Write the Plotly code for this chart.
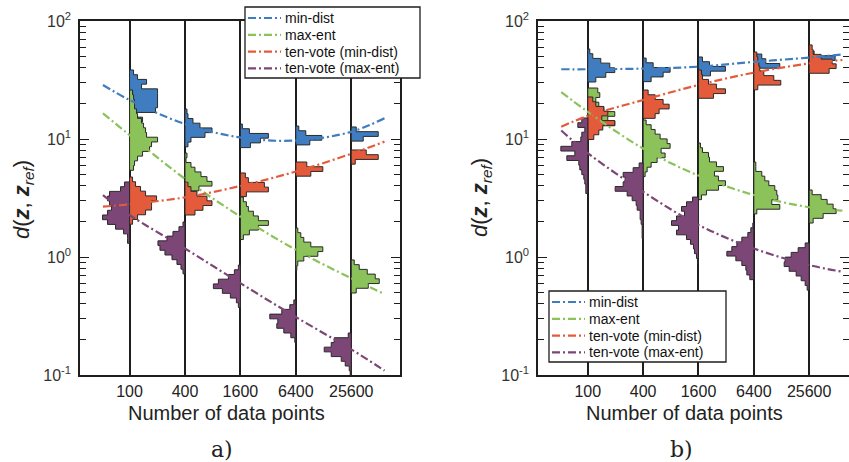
import plotly.graph_objects as go

# Category labels (number of data points) and their positions on the x axis
categories = ["100", "400", "1600", "6400", "25600"]
cat_pos = [0, 1, 2, 3, 4]

# Histograms of d(z, z_ref): top bin edge (log10 d) per category and bin counts from top to bottom
BIN = 0.04  # bin width in decades

a_min_dist_top = [1.585, 1.254, 1.127, 1.110, 1.102]
a_min_dist_counts = [
    [4, 8, 17, 12, 28, 28, 28, 28, 26, 7, 13],
    [2, 3, 8, 15, 27, 20, 6, 3],
    [2, 9, 28, 20, 10],
    [3, 10, 26, 14],
    [5, 27, 12],
]
a_max_ent_top = [1.415, 0.881, 0.508, 0.246, -0.025]
a_max_ent_counts = [
    [3, 4, 5, 5, 7, 8, 12, 14, 16, 17, 28, 22, 20, 13, 8, 5, 4],
    [2, 1, 6, 10, 16, 22, 27, 14, 5],
    [3, 6, 8, 13, 18, 28, 18, 9, 3],
    [2, 5, 8, 15, 27, 22, 8, 2, 1],
    [3, 8, 16, 24, 28, 17, 5],
]
a_tv_min_dist_top = [0.678, 0.636, 0.712, 0.805, 0.907]
a_tv_min_dist_counts = [
    [3, 6, 11, 16, 27, 22, 22, 16, 8, 3],
    [3, 6, 12, 22, 27, 18, 10],
    [5, 8, 24, 28, 6],
    [11, 27, 15],
    [15, 27, 4],
]
a_tv_max_ent_top = [0.636, 0.297, -0.068, -0.364, -0.644]
a_tv_max_ent_counts = [
    [5, 9, 20, 22, 20, 18, 22, 27, 22, 14, 6, 2, 2],
    [2, 6, 12, 18, 27, 25, 20, 13, 8, 4, 2],
    [2, 6, 12, 22, 27, 18, 10, 4, 2],
    [2, 6, 14, 26, 18, 19, 12, 5, 1],
    [3, 17, 20, 27, 20, 10, 6, 2, 1],
]

b_min_dist_top = [1.763, 1.686, 1.695, 1.720, 1.746]
b_min_dist_counts = [
    [2, 5, 13, 22, 27, 18, 8],
    [3, 10, 27, 20, 8],
    [4, 11, 27, 12],
    [8, 12, 26],
    [5, 26],
]
b_max_ent_top = [1.432, 1.161, 0.966, 0.805, 0.568]
b_max_ent_counts = [
    [10, 12, 8, 11, 16, 27, 20, 27, 5],
    [3, 8, 12, 17, 24, 27, 18, 22, 14, 8, 4, 2],
    [2, 4, 10, 11, 18, 25, 16, 20, 27, 20, 8, 3],
    [2, 2, 8, 11, 15, 21, 23, 24, 18, 26, 3],
    [3, 12, 18, 24, 27, 14, 4],
]
b_tv_min_dist_top = [1.356, 1.415, 1.585, 1.737, 1.797]
b_tv_min_dist_counts = [
    [5, 8, 16, 20, 14, 27, 15, 11, 6],
    [5, 12, 20, 26, 16, 12],
    [3, 4, 10, 18, 27, 15],
    [3, 4, 5, 6, 10, 20, 27, 4],
    [3, 4, 12, 23, 27, 20],
]
b_tv_max_ent_top = [1.178, 0.797, 0.508, 0.288, 0.119]
b_tv_max_ent_counts = [
    [6, 10, 3, 6, 7, 16, 27, 13, 21, 9, 8, 6, 4, 3, 2, 2],
    [4, 10, 20, 18, 20, 28, 16, 11, 7, 6, 3, 3, 2, 1, 1, 1],
    [6, 12, 17, 14, 22, 27, 20, 22, 12, 8, 5, 4, 2, 1],
    [1, 3, 6, 12, 17, 22, 27, 18, 12, 8, 7, 4],
    [4, 11, 18, 24, 25, 20, 13, 8, 4, 2],
]

# Fitted trend curves (d values) sampled along the x axis
curve_x = [-0.48, 0, 1, 2, 3, 4, 4.6]
a_min_dist_fit = [28.7, 21.4, 13.4, 10.3, 9.7, 11.5, 15.0]
a_max_ent_fit = [16.5, 10.8, 4.6, 2.2, 1.15, 0.66, 0.485]
a_tv_min_dist_fit = [2.67, 2.8, 3.2, 4.0, 5.3, 7.5, 9.5]
a_tv_max_ent_fit = [3.35, 2.27, 1.18, 0.6, 0.31, 0.165, 0.109]
b_min_dist_fit = [39, 39, 39.5, 41, 45, 49, 52]
b_max_ent_fit = [25, 17, 8.3, 4.9, 3.35, 2.64, 2.47]
b_tv_min_dist_fit = [12.7, 15.7, 21.4, 28.7, 36.5, 43.7, 46.7]
b_tv_max_ent_fit = [11.8, 7.6, 3.57, 1.87, 1.18, 0.855, 0.75]

names = ["min-dist", "max-ent", "ten-vote (min-dist)", "ten-vote (max-ent)"]
colors = ["#3f7dc0", "#8bc25a", "#e35b3b", "#7c4676"]
sides = [1, 1, 1, -1]          # ten-vote (max-ent) histograms open to the left
COUNT_TO_X = 1 / 55.4           # bar length per count, in category spacings
W, H = 849, 462
DASH = "8px,3px,2px,3px"
INK = "#1e1e1e"

panels = [
    dict(
        tops=[a_min_dist_top, a_max_ent_top, a_tv_min_dist_top, a_tv_max_ent_top],
        counts=[a_min_dist_counts, a_max_ent_counts, a_tv_min_dist_counts, a_tv_max_ent_counts],
        fits=[a_min_dist_fit, a_max_ent_fit, a_tv_min_dist_fit, a_tv_max_ent_fit],
        xa="x", ya="y",
        # legend box (left, top, right, bottom) in pixels, first row centre, row step
        legend_box=(245, 7, 420, 78), legend_row0=18, legend_step=16.8,
    ),
    dict(
        tops=[b_min_dist_top, b_max_ent_top, b_tv_min_dist_top, b_tv_max_ent_top],
        counts=[b_min_dist_counts, b_max_ent_counts, b_tv_min_dist_counts, b_tv_max_ent_counts],
        fits=[b_min_dist_fit, b_max_ent_fit, b_tv_min_dist_fit, b_tv_max_ent_fit],
        xa="x2", ya="y2",
        legend_box=(549, 291, 726, 362), legend_row0=302, legend_step=16.8,
    ),
]


def stair_outline(x0, top, counts, side):
    """Closed step outline of a sideways histogram anchored at x0."""
    xs, ys = [x0], [10 ** top]
    for k, c in enumerate(counts):
        hi = 10 ** (top - k * BIN)
        lo = 10 ** (top - (k + 1) * BIN)
        x = x0 + side * c * COUNT_TO_X
        xs += [x, x]
        ys += [hi, lo]
    xs += [x0, x0]
    ys += [10 ** (top - len(counts) * BIN), 10 ** top]
    return xs, ys


def px_x(v):
    return v / W


def px_y(v):
    return 1 - v / H


fig = go.Figure()
shapes, annotations = [], []

for p in panels:
    for m in range(4):
        for ci, x0 in enumerate(cat_pos):
            xs, ys = stair_outline(x0, p["tops"][m][ci], p["counts"][m][ci], sides[m])
            fig.add_trace(go.Scatter(
                x=xs, y=ys, mode="lines", fill="toself",
                fillcolor=colors[m], line=dict(color="#2a2a2a", width=1),
                xaxis=p["xa"], yaxis=p["ya"], showlegend=False, hoverinfo="skip",
            ))
    for m in range(4):
        fig.add_trace(go.Scatter(
            x=curve_x, y=p["fits"][m], mode="lines", name=names[m],
            line=dict(color=colors[m], width=2.2, dash=DASH, shape="spline"),
            xaxis=p["xa"], yaxis=p["ya"], showlegend=False,
        ))

    # legend: framed box with a dash-dot sample and a label per series
    l, t, r, b = p["legend_box"]
    shapes.append(dict(type="rect", xref="paper", yref="paper",
                       x0=px_x(l), x1=px_x(r), y0=px_y(b), y1=px_y(t),
                       line=dict(color=INK, width=1.3), fillcolor="white", layer="above"))
    for m in range(4):
        yc = p["legend_row0"] + m * p["legend_step"]
        shapes.append(dict(type="line", xref="paper", yref="paper",
                           x0=px_x(l + 3), x1=px_x(l + 36), y0=px_y(yc), y1=px_y(yc),
                           line=dict(color=colors[m], width=2.2, dash=DASH), layer="above"))
        annotations.append(dict(text=names[m], x=px_x(l + 38), y=px_y(yc), xref="paper",
                                yref="paper", xanchor="left", yanchor="middle", showarrow=False,
                                font=dict(size=14, color="#111")))

ytickvals = [0.1, 1, 10, 100]
yticktext = ["10<sup>-1</sup>", "10<sup>0</sup>", "10<sup>1</sup>", "10<sup>2</sup>"]
yminor = [m * 10 ** k for k in (-1, 0, 1) for m in range(2, 10)]

ydom = [px_y(375), px_y(21)]


def xaxis_style(dom, rng):
    return dict(
        domain=dom, range=rng, tickmode="array", tickvals=cat_pos, ticktext=categories,
        showgrid=True, gridcolor=INK, gridwidth=1.8, zeroline=False,
        showline=True, linecolor=INK, linewidth=1.5, mirror=True, ticks="",
        tickfont=dict(size=16, color="#222"), ticklabelstandoff=1, automargin=False,
    )


def yaxis_style(anchor):
    return dict(
        type="log", range=[-1, 2], domain=ydom, anchor=anchor,
        tickmode="array", tickvals=ytickvals, ticktext=yticktext,
        ticks="inside", ticklen=9, tickwidth=1.3, tickcolor=INK,
        showline=True, linecolor=INK, linewidth=1.5, mirror="ticks",
        showgrid=False, zeroline=False, tickfont=dict(size=16, color="#333"),
        ticklabelstandoff=4, automargin=False,
        minor=dict(tickmode="array", tickvals=yminor, ticks="inside", ticklen=6,
                   tickwidth=1, tickcolor=INK, showgrid=False),
    )


ytitle = "<i>d</i>(<b><i>z</i></b>, <b><i>z</i></b><sub><i>ref</i></sub>)"


def label(text, px, py, size, **kw):
    return dict(text=text, x=px_x(px), y=px_y(py), xref="paper", yref="paper",
                xanchor="center", yanchor="middle", showarrow=False,
                font=dict(size=size, color="#222", **kw.pop("font", {})), **kw)


serif = dict(family="DejaVu Serif, Liberation Serif, serif")
annotations += [
    label("Number of data points", 226, 413, 20),
    label("Number of data points", 684, 413, 20),
    label(ytitle, 23, 200, 22, textangle=-90),
    label(ytitle, 481, 198, 22, textangle=-90),
    label("a)", 222, 449, 22, font=serif),
    label("b)", 681, 449, 22, font=serif),
]

fig.update_layout(
    width=W, height=H, margin=dict(l=0, r=0, t=0, b=0, autoexpand=False),
    paper_bgcolor="white", plot_bgcolor="white", showlegend=False,
    font=dict(family="Liberation Sans, Arial, sans-serif", color="#222"),
    xaxis=xaxis_style([px_x(80), px_x(400)], [-0.894, 4.88]),
    yaxis=yaxis_style("x"),
    xaxis2=xaxis_style([px_x(538), 1.0], [-0.9, 4.72]),
    yaxis2=yaxis_style("x2"),
    shapes=shapes,
    annotations=annotations,
)

fig.write_html("out.html")
